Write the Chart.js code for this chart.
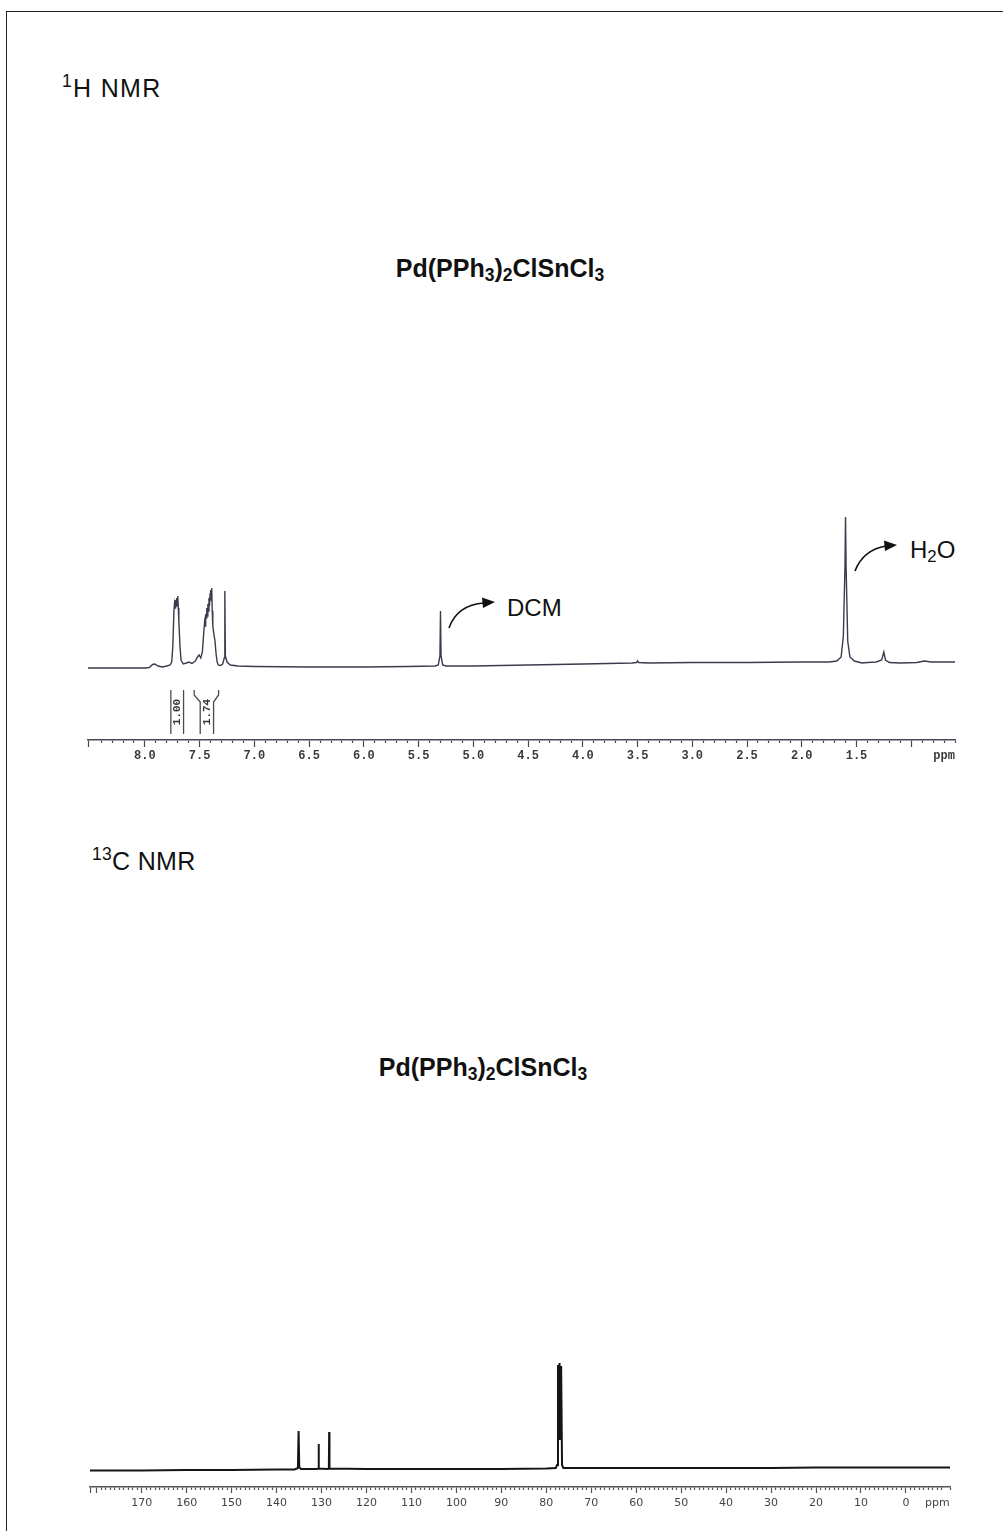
<!DOCTYPE html>
<html>
<head>
<meta charset="utf-8">
<script src="https://cdn.jsdelivr.net/npm/chart.js@4.4.0/dist/chart.umd.min.js"></script>
<style>
html,body{margin:0;padding:0;background:#fff;}
body{width:1003px;height:1531px;overflow:hidden;position:relative;font-family:"Liberation Sans",Arial,sans-serif;color:#111;}
#frame{position:absolute;left:6px;top:11px;width:1010px;height:1540px;border:1px solid #222;box-sizing:border-box;}
.t{position:absolute;white-space:nowrap;line-height:1;}
.big{font-size:24px;}
.lab{font-size:25px;}
.title{font-size:25px;font-weight:bold;transform:translateX(-50%);}
sub,sup{font-size:70%;line-height:0;}
sub{vertical-align:-0.25em;}
sup{vertical-align:0.55em;}
canvas{position:absolute;left:0;}
#c1{top:480px;}
#c2{top:1330px;}
#arrows{position:absolute;left:0;top:0;}
</style>
</head>
<body>
<div id="frame"></div>

<div class="t lab" style="left:62px;top:76px;letter-spacing:1.3px;"><sup>1</sup>H NMR</div>
<div class="t title" style="left:500px;top:256px;">Pd(PPh<sub>3</sub>)<sub>2</sub>ClSnCl<sub>3</sub></div>
<div class="t big" style="left:507px;top:596px;">DCM</div>
<div class="t big" style="left:910px;top:538px;">H<sub>2</sub>O</div>
<div class="t lab" style="left:92px;top:849px;letter-spacing:0.3px;"><sup>13</sup>C NMR</div>
<div class="t title" style="left:483px;top:1055px;">Pd(PPh<sub>3</sub>)<sub>2</sub>ClSnCl<sub>3</sub></div>

<canvas id="c1" width="1003" height="300"></canvas>
<canvas id="c2" width="1003" height="190"></canvas>

<svg id="arrows" width="1003" height="1531">
  <path d="M449,628 Q457,605 484,603" fill="none" stroke="#111" stroke-width="1.6"/>
  <polygon points="495,602 482,597.5 483,608" fill="#111"/>
  <path d="M855,571 Q863,550 886,546" fill="none" stroke="#111" stroke-width="1.6"/>
  <polygon points="897,545 884,540.5 885,551" fill="#111"/>
</svg>

<script>
// ---------- 1H NMR data (ppm, intensity in arbitrary units) ----------
const h1Ppm = [8.52, 8.20, 8.00, 7.96, 7.93, 7.91, 7.88, 7.84, 7.80, 7.77, 7.755, 7.745, 7.735, 7.73, 7.725, 7.72, 7.715, 7.71, 7.705, 7.70, 7.695, 7.69, 7.68, 7.67, 7.65, 7.62, 7.60, 7.57, 7.54, 7.52, 7.505, 7.49, 7.475, 7.465, 7.455, 7.45, 7.445, 7.44, 7.435, 7.43, 7.425, 7.42, 7.415, 7.41, 7.405, 7.40, 7.395, 7.39, 7.385, 7.38, 7.37, 7.36, 7.35, 7.34, 7.33, 7.31, 7.29, 7.275, 7.27, 7.265, 7.25, 7.22, 7.15, 7.00, 6.50, 6.00, 5.60, 5.35, 5.32, 5.305, 5.30, 5.295, 5.28, 5.25, 5.00, 4.50, 4.00, 3.55, 3.51, 3.50, 3.49, 3.40, 3.00, 2.50, 2.00, 1.75, 1.68, 1.64, 1.62, 1.605, 1.60, 1.595, 1.58, 1.56, 1.52, 1.45, 1.40, 1.32, 1.27, 1.25, 1.235, 1.20, 1.10, 0.95, 0.88, 0.82, 0.70, 0.60];
const h1Intensity = [-2, -2, -2, -1.5, 1.5, 2, 0, -1, 0, 1, 4, 20, 55, 62, 58, 66, 60, 68, 62, 70, 58, 45, 20, 6, 2, 3, 4, 2.5, 5, 9, 11, 8, 14, 30, 44, 40, 52, 48, 58, 50, 62, 55, 68, 60, 72, 76, 66, 78, 55, 40, 32, 25, 12, 4, 1, 0.5, 2, 8, 75, 10, 4, 1, 0, -0.5, -1, -1, -0.5, 0, 1, 10, 55, 10, 1, 0, 0, 1, 2, 3, 3.5, 5, 3.5, 3, 3.5, 3.5, 4, 4, 5, 9, 30, 100, 149, 100, 25, 9, 5, 3, 3.5, 4, 6, 14, 6, 3.5, 3, 3.5, 5, 4, 4, 4];
const h1Range = [0.60, 8.52];
const h1LabelTicks = [8.0, 7.5, 7.0, 6.5, 6.0, 5.5, 5.0, 4.5, 4.0, 3.5, 3.0, 2.5, 2.0, 1.5];
const h1LabelText = ['8.0', '7.5', '7.0', '6.5', '6.0', '5.5', '5.0', '4.5', '4.0', '3.5', '3.0', '2.5', '2.0', '1.5'];
const h1MajorTicks = [8.0, 7.5, 7.0, 6.5, 6.0, 5.5, 5.0, 4.5, 4.0, 3.5, 3.0, 2.5, 2.0, 1.5, 1.0, 8.52];
const h1UnitTick = 0.7;

// integrations
const integralLabels = ['1.00', '1.74'];
const integralOuterStart = [7.763, 7.550];
const integralOuterEnd = [7.647, 7.327];
const integralInnerStart = [7.763, 7.495];
const integralInnerEnd = [7.647, 7.373];

// ---------- 13C NMR data ----------
const c13Ppm = [181.5, 170, 160, 150, 140, 136, 135.25, 135.1, 134.95, 134.6, 131, 130.72, 130.65, 130.58, 128.6, 128.37, 128.3, 128.23, 120, 110, 100, 90, 80, 77.9, 77.6, 77.4, 77.2, 77.05, 76.9, 76.7, 76.5, 76.2, 70, 60, 50, 40, 30, 20, 10, 0, -9.8];
const c13Intensity = [-0.5, -0.5, 0, 0, 0.5, 0.5, 2, 39, 3, 1, 1, 1.5, 26, 1.5, 1, 1.5, 38, 1.5, 1, 1, 1, 1, 1.5, 2, 5, 105, 30, 107, 30, 104, 5, 2, 2, 2, 2, 2, 2, 2.5, 2.5, 2.5, 2.5];
const c13Range = [-9.8, 181.5];
const c13LabelTicks = [170, 160, 150, 140, 130, 120, 110, 100, 90, 80, 70, 60, 50, 40, 30, 20, 10, 0];
const c13LabelText = ['170', '160', '150', '140', '130', '120', '110', '100', '90', '80', '70', '60', '50', '40', '30', '20', '10', '0'];
const c13MajorTicks = [180, 170, 160, 150, 140, 130, 120, 110, 100, 90, 80, 70, 60, 50, 40, 30, 20, 10, 0, 181.5];
const c13UnitTick = -7;

const unitLabel = 'ppm';

function near(a, b, eps) { return Math.abs(a - b) < eps; }
function inList(v, list, eps) { return list.some(x => near(v, x, eps)); }

function makeChart(id, ppm, inten, range, yRange, labelTicks, labelText, majorTicks, unitTick, step, cfg) {
  const eps = step / 10;
  return new Chart(document.getElementById(id), {
    type: 'line',
    data: {
      datasets: [{
        data: ppm.map((x, i) => ({ x: x, y: inten[i] })),
        borderColor: cfg.lineColor,
        borderWidth: cfg.lineWidth,
        pointRadius: 0,
        tension: 0,
        fill: false
      }]
    },
    options: {
      responsive: false,
      animation: false,
      events: [],
      layout: { padding: cfg.padding },
      plugins: { legend: { display: false }, tooltip: { enabled: false } },
      scales: {
        x: {
          type: 'linear',
          reverse: true,
          min: range[0],
          max: range[1],
          afterFit: s => { s.height = 30; },
          border: { display: true, color: cfg.axisColor, width: 1.5 },
          grid: {
            drawOnChartArea: false,
            drawTicks: true,
            tickLength: cfg.tickLength,
            tickColor: cfg.axisColor,
            tickWidth: 1.2,
            tickBorderDash: ctx => inList(ctx.tick.value, majorTicks, eps) ? [] : [cfg.minorLen, 40]
          },
          ticks: {
            stepSize: step,
            autoSkip: false,
            maxRotation: 0,
            minRotation: 0,
            padding: cfg.labelPad,
            color: cfg.labelColor,
            font: cfg.font,
            callback: v => {
              if (near(v, unitTick, eps)) return unitLabel;
              const idx = labelTicks.findIndex(t => near(t, v, eps));
              return idx >= 0 ? labelText[idx] : '';
            }
          }
        },
        y: { display: false, min: yRange[0], max: yRange[1] }
      }
    },
    plugins: cfg.plugins || []
  });
}

const integralPlugin = {
  id: 'integrals',
  afterDatasetsDraw(chart) {
    const xs = chart.scales.x;
    const ctx = chart.ctx;
    const bottom = chart.chartArea.bottom;
    const top = bottom - 50;
    const end = bottom - 6;
    ctx.save();
    ctx.strokeStyle = '#4a4a55';
    ctx.lineWidth = 1.3;
    for (let i = 0; i < integralLabels.length; i++) {
      const sides = [[integralOuterStart[i], integralInnerStart[i]], [integralOuterEnd[i], integralInnerEnd[i]]];
      sides.forEach(([o, n]) => {
        const xo = xs.getPixelForValue(o), xn = xs.getPixelForValue(n);
        ctx.beginPath();
        ctx.moveTo(xo, top);
        ctx.lineTo(xo, top + 5);
        ctx.lineTo(xn, top + 12);
        ctx.lineTo(xn, end);
        ctx.stroke();
      });
      const cx = (xs.getPixelForValue(integralInnerStart[i]) + xs.getPixelForValue(integralInnerEnd[i])) / 2;
      const cy = bottom - 28;
      ctx.save();
      ctx.translate(cx, cy);
      ctx.rotate(-Math.PI / 2);
      ctx.fillStyle = '#333';
      ctx.font = 'bold 11px "Liberation Mono", monospace';
      ctx.textAlign = 'center';
      ctx.textBaseline = 'middle';
      ctx.fillText(integralLabels[i], 0, 0);
      ctx.restore();
    }
    ctx.restore();
  }
};

makeChart('c1', h1Ppm, h1Intensity, h1Range, [-74, 166], h1LabelTicks, h1LabelText, h1MajorTicks, h1UnitTick, 0.1, {
  lineColor: '#3d3a4c', lineWidth: 1.4,
  padding: { left: 88, right: 48, top: 20, bottom: 10 },
  axisColor: '#4b4856', tickLength: 7, minorLen: 2.5, labelPad: 2,
  labelColor: '#3a3a3a', font: { family: '"Liberation Mono", monospace', size: 12, weight: 'bold' },
  plugins: [integralPlugin]
});

makeChart('c2', c13Ppm, c13Intensity, c13Range, [-17, 130], c13LabelTicks, c13LabelText, c13MajorTicks, c13UnitTick, 1, {
  lineColor: '#151515', lineWidth: 2,
  padding: { left: 90, right: 53, top: 10, bottom: 3 },
  axisColor: '#555', tickLength: 6, minorLen: 2.5, labelPad: 4,
  labelColor: '#444', font: { family: '"DejaVu Sans", sans-serif', size: 11 }
});
</script>
</body>
</html>
